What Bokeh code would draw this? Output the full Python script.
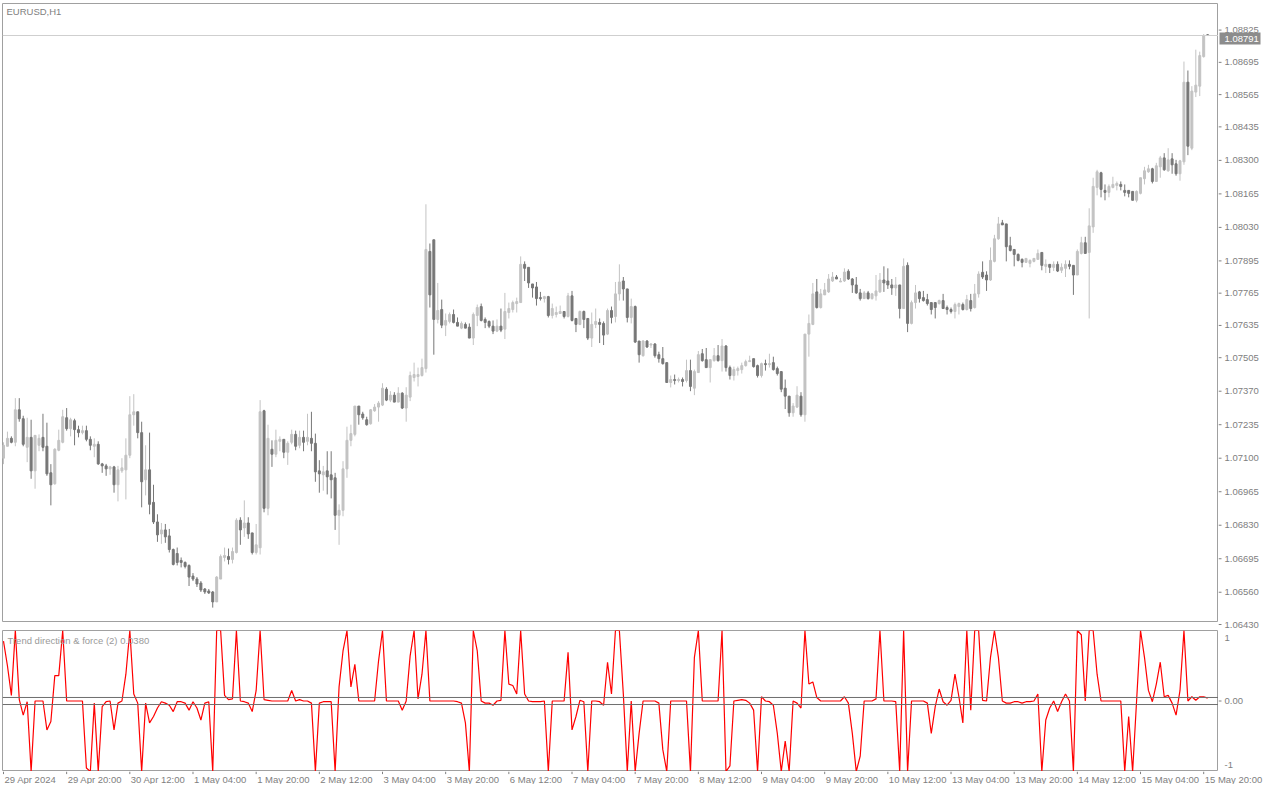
from bokeh.plotting import figure
from bokeh.models import Range1d, Span, Label, ColumnDataSource
from bokeh.layouts import column, row
from bokeh.embed import file_html
from bokeh.resources import INLINE
from bokeh.core.properties import value

symbol_title = "EURUSD,H1"
indicator_title = "Trend direction & force (2) 0.0380"
last_price_text = "1.08791"
last_price = 1.08791

open_ = [
    1.07088, 1.07136, 1.07168, 1.07152, 1.07283, 1.07247, 1.07132, 1.07172, 1.07037, 1.07140,
    1.07172, 1.07136, 1.07029, 1.06985, 1.07120, 1.07152, 1.07251, 1.07207, 1.07239, 1.07203,
    1.07191, 1.07199, 1.07164, 1.07136, 1.07144, 1.07065, 1.07057, 1.07045, 1.07053, 1.06981,
    1.07037, 1.07041, 1.07100, 1.07263, 1.07275, 1.07191, 1.07001, 1.07041, 1.06910, 1.06831,
    1.06783, 1.06799, 1.06775, 1.06720, 1.06704, 1.06676, 1.06668, 1.06656, 1.06613, 1.06601,
    1.06585, 1.06561, 1.06553, 1.06549, 1.06509, 1.06601, 1.06688, 1.06692, 1.06680, 1.06708,
    1.06838, 1.06807, 1.06827, 1.06787, 1.06708, 1.06727, 1.07279, 1.06886, 1.07124, 1.07104,
    1.07156, 1.07164, 1.07112, 1.07152, 1.07184, 1.07140, 1.07172, 1.07156, 1.07168, 1.07148,
    1.07037, 1.07021, 1.07037, 1.07021, 1.07009, 1.06858, 1.06878, 1.07045, 1.07160, 1.07184,
    1.07298, 1.07266, 1.07243, 1.07227, 1.07279, 1.07294, 1.07302, 1.07366, 1.07322, 1.07342,
    1.07314, 1.07350, 1.07290, 1.07334, 1.07413, 1.07417, 1.07421, 1.07449, 1.07921, 1.07968,
    1.07647, 1.07687, 1.07624, 1.07639, 1.07667, 1.07635, 1.07612, 1.07627, 1.07616, 1.07572,
    1.07663, 1.07699, 1.07647, 1.07639, 1.07620, 1.07600, 1.07620, 1.07608, 1.07675, 1.07687,
    1.07711, 1.07715, 1.07869, 1.07857, 1.07790, 1.07778, 1.07735, 1.07731, 1.07739, 1.07663,
    1.07667, 1.07671, 1.07679, 1.07659, 1.07742, 1.07651, 1.07627, 1.07679, 1.07651, 1.07572,
    1.07627, 1.07635, 1.07631, 1.07588, 1.07683, 1.07659, 1.07750, 1.07802, 1.07770, 1.07655,
    1.07699, 1.07560, 1.07501, 1.07560, 1.07544, 1.07548, 1.07505, 1.07489, 1.07473, 1.07393,
    1.07405, 1.07401, 1.07405, 1.07401, 1.07441, 1.07370, 1.07433, 1.07509, 1.07485, 1.07453,
    1.07481, 1.07501, 1.07481, 1.07540, 1.07453, 1.07421, 1.07441, 1.07445, 1.07461, 1.07477,
    1.07489, 1.07461, 1.07421, 1.07469, 1.07465, 1.07473, 1.07449, 1.07437, 1.07370, 1.07338,
    1.07271, 1.07294, 1.07338, 1.07263, 1.07588, 1.07627, 1.07758, 1.07695, 1.07746, 1.07758,
    1.07802, 1.07818, 1.07798, 1.07802, 1.07841, 1.07810, 1.07786, 1.07754, 1.07731, 1.07754,
    1.07731, 1.07742, 1.07758, 1.07806, 1.07802, 1.07786, 1.07774, 1.07786, 1.07691, 1.07865,
    1.07631, 1.07715, 1.07758, 1.07735, 1.07727, 1.07715, 1.07715, 1.07711, 1.07723, 1.07695,
    1.07687, 1.07679, 1.07699, 1.07707, 1.07687, 1.07723, 1.07695, 1.07750, 1.07837, 1.07826,
    1.07806, 1.07881, 1.07972, 1.08036, 1.08032, 1.07944, 1.07929, 1.07909, 1.07889, 1.07877,
    1.07873, 1.07881, 1.07889, 1.07917, 1.07861, 1.07869, 1.07857, 1.07869, 1.07845, 1.07853,
    1.07869, 1.07865, 1.07826, 1.07913, 1.07956, 1.07917, 1.08020, 1.08179, 1.08238, 1.08167,
    1.08159, 1.08179, 1.08187, 1.08191, 1.08167, 1.08167, 1.08163, 1.08127, 1.08155, 1.08214,
    1.08242, 1.08254, 1.08203, 1.08262, 1.08298, 1.08246, 1.08294, 1.08274, 1.08234, 1.08282,
    1.08603, 1.08337, 1.08563, 1.08587, 1.08706, 1.08794,
]

high = [
    1.07152, 1.07195, 1.07176, 1.07330, 1.07330, 1.07259, 1.07251, 1.07243, 1.07180, 1.07184,
    1.07267, 1.07231, 1.07064, 1.07128, 1.07203, 1.07283, 1.07290, 1.07251, 1.07247, 1.07219,
    1.07219, 1.07219, 1.07176, 1.07168, 1.07156, 1.07069, 1.07065, 1.07057, 1.07057, 1.07057,
    1.07088, 1.07168, 1.07338, 1.07346, 1.07275, 1.07235, 1.07140, 1.07191, 1.06981, 1.06862,
    1.06827, 1.06823, 1.06803, 1.06724, 1.06728, 1.06688, 1.06672, 1.06660, 1.06625, 1.06609,
    1.06593, 1.06565, 1.06561, 1.06553, 1.06613, 1.06700, 1.06728, 1.06724, 1.06728, 1.06846,
    1.06850, 1.06918, 1.06850, 1.06787, 1.06823, 1.07322, 1.07283, 1.07223, 1.07160, 1.07203,
    1.07176, 1.07164, 1.07156, 1.07203, 1.07199, 1.07199, 1.07199, 1.07267, 1.07275, 1.07187,
    1.07080, 1.07057, 1.07116, 1.07116, 1.07029, 1.06902, 1.07076, 1.07215, 1.07223, 1.07298,
    1.07298, 1.07275, 1.07255, 1.07286, 1.07306, 1.07318, 1.07390, 1.07374, 1.07358, 1.07354,
    1.07374, 1.07354, 1.07374, 1.07437, 1.07473, 1.07453, 1.07489, 1.08111, 1.07953, 1.07968,
    1.07794, 1.07727, 1.07671, 1.07675, 1.07687, 1.07655, 1.07639, 1.07635, 1.07631, 1.07675,
    1.07707, 1.07711, 1.07655, 1.07643, 1.07643, 1.07647, 1.07691, 1.07754, 1.07715, 1.07723,
    1.07735, 1.07901, 1.07881, 1.07857, 1.07790, 1.07798, 1.07758, 1.07742, 1.07742, 1.07711,
    1.07699, 1.07703, 1.07679, 1.07754, 1.07762, 1.07651, 1.07683, 1.07683, 1.07651, 1.07675,
    1.07691, 1.07651, 1.07639, 1.07691, 1.07699, 1.07798, 1.07869, 1.07818, 1.07770, 1.07731,
    1.07703, 1.07560, 1.07564, 1.07564, 1.07552, 1.07552, 1.07517, 1.07536, 1.07473, 1.07421,
    1.07425, 1.07413, 1.07413, 1.07485, 1.07485, 1.07445, 1.07520, 1.07528, 1.07532, 1.07485,
    1.07532, 1.07544, 1.07568, 1.07544, 1.07461, 1.07457, 1.07457, 1.07473, 1.07485, 1.07501,
    1.07489, 1.07465, 1.07473, 1.07485, 1.07509, 1.07497, 1.07457, 1.07437, 1.07405, 1.07338,
    1.07310, 1.07378, 1.07354, 1.07588, 1.07667, 1.07794, 1.07810, 1.07770, 1.07794, 1.07830,
    1.07838, 1.07826, 1.07814, 1.07853, 1.07849, 1.07814, 1.07818, 1.07770, 1.07762, 1.07762,
    1.07754, 1.07826, 1.07834, 1.07861, 1.07853, 1.07810, 1.07818, 1.07786, 1.07893, 1.07877,
    1.07723, 1.07786, 1.07762, 1.07762, 1.07750, 1.07715, 1.07715, 1.07727, 1.07750, 1.07703,
    1.07695, 1.07715, 1.07715, 1.07715, 1.07746, 1.07750, 1.07790, 1.07841, 1.07881, 1.07841,
    1.07937, 1.07988, 1.08060, 1.08048, 1.08032, 1.07980, 1.07929, 1.07913, 1.07893, 1.07893,
    1.07889, 1.07893, 1.07929, 1.07917, 1.07889, 1.07869, 1.07881, 1.07881, 1.07873, 1.07885,
    1.07885, 1.07865, 1.07929, 1.07980, 1.07980, 1.08095, 1.08218, 1.08250, 1.08242, 1.08191,
    1.08191, 1.08222, 1.08203, 1.08203, 1.08191, 1.08167, 1.08163, 1.08167, 1.08218, 1.08262,
    1.08270, 1.08258, 1.08278, 1.08306, 1.08317, 1.08337, 1.08317, 1.08290, 1.08290, 1.08686,
    1.08650, 1.08587, 1.08734, 1.08726, 1.08797, 1.08797,
]

low = [
    1.07064, 1.07136, 1.07148, 1.07136, 1.07235, 1.07136, 1.07072, 1.07005, 1.06965, 1.07116,
    1.07116, 1.07017, 1.06898, 1.06981, 1.07116, 1.07148, 1.07199, 1.07176, 1.07140, 1.07172,
    1.07184, 1.07156, 1.07120, 1.07092, 1.07061, 1.07029, 1.07017, 1.07021, 1.06949, 1.06914,
    1.07029, 1.06922, 1.07088, 1.07219, 1.07168, 1.06890, 1.06938, 1.06862, 1.06823, 1.06751,
    1.06743, 1.06747, 1.06708, 1.06656, 1.06656, 1.06648, 1.06644, 1.06573, 1.06593, 1.06569,
    1.06549, 1.06541, 1.06541, 1.06486, 1.06509, 1.06601, 1.06672, 1.06660, 1.06664, 1.06704,
    1.06739, 1.06771, 1.06763, 1.06700, 1.06700, 1.06700, 1.06870, 1.06858, 1.07053, 1.07092,
    1.07116, 1.07088, 1.07061, 1.07144, 1.07120, 1.07128, 1.07116, 1.07140, 1.07116, 1.06993,
    1.06949, 1.06957, 1.06942, 1.06926, 1.06799, 1.06739, 1.06854, 1.07009, 1.07136, 1.07176,
    1.07223, 1.07243, 1.07219, 1.07223, 1.07275, 1.07235, 1.07298, 1.07318, 1.07314, 1.07314,
    1.07314, 1.07286, 1.07235, 1.07318, 1.07397, 1.07377, 1.07417, 1.07433, 1.07695, 1.07505,
    1.07631, 1.07612, 1.07580, 1.07631, 1.07631, 1.07620, 1.07608, 1.07612, 1.07572, 1.07544,
    1.07620, 1.07639, 1.07612, 1.07612, 1.07588, 1.07596, 1.07596, 1.07568, 1.07651, 1.07675,
    1.07675, 1.07715, 1.07802, 1.07774, 1.07735, 1.07703, 1.07723, 1.07715, 1.07655, 1.07651,
    1.07655, 1.07671, 1.07651, 1.07655, 1.07639, 1.07596, 1.07624, 1.07612, 1.07564, 1.07536,
    1.07612, 1.07552, 1.07544, 1.07584, 1.07631, 1.07635, 1.07723, 1.07723, 1.07635, 1.07631,
    1.07552, 1.07473, 1.07497, 1.07532, 1.07532, 1.07493, 1.07473, 1.07465, 1.07393, 1.07373,
    1.07385, 1.07393, 1.07377, 1.07393, 1.07358, 1.07342, 1.07433, 1.07477, 1.07453, 1.07393,
    1.07477, 1.07477, 1.07437, 1.07437, 1.07405, 1.07401, 1.07421, 1.07429, 1.07457, 1.07477,
    1.07453, 1.07413, 1.07413, 1.07441, 1.07453, 1.07441, 1.07421, 1.07354, 1.07286, 1.07255,
    1.07255, 1.07290, 1.07255, 1.07235, 1.07497, 1.07624, 1.07691, 1.07691, 1.07746, 1.07754,
    1.07798, 1.07810, 1.07798, 1.07798, 1.07806, 1.07754, 1.07750, 1.07723, 1.07731, 1.07727,
    1.07727, 1.07723, 1.07754, 1.07758, 1.07770, 1.07746, 1.07742, 1.07651, 1.07691, 1.07596,
    1.07627, 1.07691, 1.07715, 1.07719, 1.07703, 1.07667, 1.07651, 1.07707, 1.07691, 1.07667,
    1.07671, 1.07651, 1.07667, 1.07683, 1.07683, 1.07679, 1.07691, 1.07735, 1.07810, 1.07762,
    1.07802, 1.07877, 1.07968, 1.08028, 1.07881, 1.07921, 1.07861, 1.07881, 1.07857, 1.07877,
    1.07857, 1.07877, 1.07889, 1.07845, 1.07834, 1.07834, 1.07842, 1.07838, 1.07834, 1.07818,
    1.07849, 1.07746, 1.07826, 1.07909, 1.07913, 1.07651, 1.07996, 1.08147, 1.08139, 1.08127,
    1.08139, 1.08175, 1.08167, 1.08167, 1.08143, 1.08139, 1.08127, 1.08119, 1.08151, 1.08191,
    1.08238, 1.08195, 1.08203, 1.08218, 1.08246, 1.08242, 1.08234, 1.08226, 1.08206, 1.08270,
    1.08309, 1.08329, 1.08543, 1.08547, 1.08702, 1.08789,
]

close = [
    1.07140, 1.07168, 1.07152, 1.07283, 1.07247, 1.07144, 1.07172, 1.07037, 1.07180, 1.07168,
    1.07132, 1.07025, 1.06981, 1.07124, 1.07160, 1.07255, 1.07207, 1.07243, 1.07203, 1.07191,
    1.07199, 1.07164, 1.07140, 1.07144, 1.07065, 1.07057, 1.07045, 1.07053, 1.06981, 1.07041,
    1.07049, 1.07100, 1.07263, 1.07275, 1.07191, 1.06993, 1.07041, 1.06902, 1.06831, 1.06779,
    1.06799, 1.06771, 1.06720, 1.06660, 1.06668, 1.06668, 1.06652, 1.06609, 1.06601, 1.06581,
    1.06557, 1.06549, 1.06545, 1.06509, 1.06609, 1.06692, 1.06696, 1.06680, 1.06712, 1.06838,
    1.06799, 1.06827, 1.06783, 1.06708, 1.06739, 1.07275, 1.06886, 1.07168, 1.07104, 1.07160,
    1.07164, 1.07112, 1.07148, 1.07184, 1.07136, 1.07172, 1.07152, 1.07172, 1.07148, 1.07033,
    1.07025, 1.07033, 1.07013, 1.07001, 1.06858, 1.06878, 1.07045, 1.07160, 1.07187, 1.07298,
    1.07263, 1.07251, 1.07223, 1.07283, 1.07294, 1.07310, 1.07370, 1.07322, 1.07342, 1.07314,
    1.07350, 1.07290, 1.07342, 1.07421, 1.07425, 1.07425, 1.07453, 1.07929, 1.07746, 1.07647,
    1.07683, 1.07624, 1.07643, 1.07667, 1.07635, 1.07620, 1.07631, 1.07612, 1.07572, 1.07667,
    1.07695, 1.07643, 1.07635, 1.07620, 1.07600, 1.07620, 1.07604, 1.07679, 1.07691, 1.07715,
    1.07719, 1.07869, 1.07853, 1.07794, 1.07774, 1.07731, 1.07731, 1.07739, 1.07663, 1.07691,
    1.07675, 1.07679, 1.07659, 1.07742, 1.07643, 1.07627, 1.07679, 1.07647, 1.07572, 1.07627,
    1.07639, 1.07627, 1.07584, 1.07683, 1.07655, 1.07750, 1.07798, 1.07770, 1.07655, 1.07699,
    1.07556, 1.07505, 1.07560, 1.07536, 1.07548, 1.07501, 1.07489, 1.07469, 1.07393, 1.07405,
    1.07401, 1.07405, 1.07397, 1.07441, 1.07377, 1.07437, 1.07505, 1.07481, 1.07453, 1.07485,
    1.07501, 1.07481, 1.07540, 1.07453, 1.07421, 1.07445, 1.07449, 1.07461, 1.07477, 1.07481,
    1.07457, 1.07421, 1.07469, 1.07465, 1.07469, 1.07445, 1.07429, 1.07366, 1.07338, 1.07271,
    1.07298, 1.07342, 1.07263, 1.07588, 1.07631, 1.07750, 1.07695, 1.07750, 1.07766, 1.07810,
    1.07818, 1.07810, 1.07802, 1.07838, 1.07810, 1.07786, 1.07754, 1.07731, 1.07754, 1.07731,
    1.07750, 1.07762, 1.07806, 1.07794, 1.07786, 1.07774, 1.07786, 1.07691, 1.07861, 1.07631,
    1.07715, 1.07754, 1.07731, 1.07723, 1.07711, 1.07687, 1.07695, 1.07723, 1.07691, 1.07687,
    1.07679, 1.07707, 1.07711, 1.07687, 1.07727, 1.07691, 1.07750, 1.07830, 1.07818, 1.07806,
    1.07885, 1.07972, 1.08032, 1.08028, 1.07940, 1.07925, 1.07909, 1.07885, 1.07877, 1.07893,
    1.07885, 1.07893, 1.07913, 1.07865, 1.07869, 1.07857, 1.07869, 1.07842, 1.07857, 1.07869,
    1.07861, 1.07826, 1.07921, 1.07956, 1.07913, 1.08024, 1.08183, 1.08242, 1.08171, 1.08159,
    1.08183, 1.08191, 1.08195, 1.08183, 1.08159, 1.08155, 1.08127, 1.08163, 1.08218, 1.08246,
    1.08254, 1.08203, 1.08266, 1.08298, 1.08250, 1.08290, 1.08270, 1.08234, 1.08286, 1.08603,
    1.08345, 1.08567, 1.08591, 1.08710, 1.08789, 1.08791,
]

trend_force = [
    0.85, 0.50, 0.08, 1.00, 0.02, -0.20, -0.01, -1.00, 0.00, 0.00,
    0.00, -0.41, -0.29, 0.36, 0.36, 1.00, 0.00, 0.00, 0.00, 0.00,
    0.00, -0.95, -1.00, -0.03, -1.00, -0.08, -0.01, 0.00, -0.41, -0.03,
    0.00, 0.38, 1.00, 0.10, -0.03, -1.00, -0.03, -0.31, -0.22, -0.10,
    -0.01, -0.03, -0.06, -0.15, -0.01, -0.01, -0.03, -0.13, -0.01, -0.10,
    -0.27, -0.03, -0.01, -1.00, 1.00, 1.00, 0.08, 0.02, 0.03, 1.00,
    0.00, -0.01, -0.03, -0.15, 0.15, 1.00, 0.02, 0.01, 0.00, 0.00,
    0.00, 0.00, 0.00, 0.15, 0.00, 0.02, 0.00, 0.00, -0.03, -1.00,
    -0.03, -0.01, -0.01, -0.01, -1.00, 0.20, 0.71, 1.00, 0.20, 0.52,
    0.00, 0.00, 0.00, 0.00, 0.00, 0.57, 1.00, 0.00, 0.00, 0.00,
    0.00, -0.13, 0.00, 0.64, 1.00, 0.03, 0.38, 1.00, 0.00, 0.00,
    0.00, 0.00, 0.00, 0.00, 0.00, -0.01, -0.03, -0.31, -1.00, 1.00,
    0.71, 0.00, -0.03, -0.03, -0.06, 0.00, 0.01, 1.00, 0.24, 0.22,
    0.10, 1.00, 0.10, 0.00, -0.01, -0.01, -0.01, 0.00, -1.00, 0.00,
    0.00, 0.00, 0.00, 0.69, -0.41, -0.22, 0.01, -0.01, -1.00, 0.00,
    0.00, -0.01, -0.06, 0.55, 0.10, 1.00, 1.00, 0.10, -1.00, 0.00,
    -1.00, -0.46, 0.00, 0.00, 0.00, 0.00, -0.03, -0.69, -1.00, 0.00,
    0.00, 0.00, 0.00, 0.00, -1.00, 0.62, 1.00, 0.00, 0.00, 0.00,
    0.00, 0.00, 1.00, -1.00, -0.92, 0.00, 0.01, 0.02, 0.01, -0.03,
    -0.13, -1.00, 0.06, 0.00, -0.01, -0.06, -0.46, -1.00, -0.57, -1.00,
    0.00, -0.03, -0.10, 1.00, 0.24, 0.27, 0.05, 0.00, 0.00, 0.00,
    0.00, 0.00, 0.00, 0.06, -0.03, -0.46, -1.00, -0.78, 0.00, 0.00,
    0.00, 0.03, 1.00, 0.00, 0.00, 0.00, -0.01, -1.00, 1.00, -1.00,
    0.00, 0.00, 0.00, 0.00, -0.03, -0.46, -0.08, 0.17, -0.01, -0.06,
    0.01, 0.38, 0.06, -0.31, 1.00, -0.13, 1.00, 1.00, 0.01, 0.00,
    0.62, 1.00, 0.62, 0.00, -0.03, -0.03, -0.01, -0.01, -0.03, -0.01,
    -0.01, 0.00, 0.10, -1.00, -0.27, -0.10, 0.00, -0.15, -0.01, 0.10,
    0.00, -1.00, 1.00, 0.94, 0.00, 1.00, 1.00, 0.38, 0.00, 0.00,
    0.00, 0.00, 0.00, 0.00, -1.00, -0.22, -1.00, 0.00, 1.00, 0.62,
    0.15, -0.01, 0.24, 0.55, 0.06, 0.08, -0.03, -0.20, 0.15, 1.00,
    0.00, 0.06, 0.01, 0.06, 0.06, 0.04,
]

price_ticks = [1.08825, 1.08695, 1.08565, 1.08435, 1.08300, 1.08165, 1.08030, 1.07895,
               1.07765, 1.07635, 1.07505, 1.07370, 1.07235, 1.07100, 1.06965, 1.06830,
               1.06695, 1.06560, 1.06430]
time_ticks = [0, 16, 32, 48, 64, 80, 96, 112, 128, 144, 160, 176, 192, 208, 224, 240,
              256, 272, 288, 304]
time_labels = ["29 Apr 2024", "29 Apr 20:00", "30 Apr 12:00", "1 May 04:00", "1 May 20:00",
               "2 May 12:00", "3 May 04:00", "3 May 20:00", "6 May 12:00", "7 May 04:00",
               "7 May 20:00", "8 May 12:00", "9 May 04:00", "9 May 20:00", "10 May 12:00",
               "13 May 04:00", "13 May 20:00", "14 May 12:00", "15 May 04:00", "15 May 20:00"]
indicator_levels = [0.05, -0.05]
indicator_ticks = [1, 0, -1]
indicator_tick_labels = ["1", "0.00", "-1"]

FONT = "Liberation Sans"
FS = "9.5px"
TXT = "#808080"
BORDER = "#A0A0A0"
BULL = "#C3C3C3"
BEAR = "#777777"

# layout sizes (pixels)
LEFT = 2
TOP = 3
FW = 1216
AXW = 46
MAIN_H = 619
MAIN_EXT = 8      # price scale strip reaches a little below the main pane
IND_H = 141
STRIP_H = 13

n = len(close)
xs = list(range(n))
colors = [BULL if c >= o else BEAR for o, c in zip(open_, close)]
src = ColumnDataSource(dict(
    x=xs, o=open_, h=high, l=low, c=close,
    top=[max(o, c) for o, c in zip(open_, close)],
    bottom=[min(o, c) for o, c in zip(open_, close)],
    color=colors,
))

X0, X1 = -0.25, 307.75
Y0, Y1 = 1.06426, 1.08920
xr = Range1d(X0, X1)
yr = Range1d(Y0, Y1)
K = (Y1 - Y0) / MAIN_H  # price per pixel


def bare(fig):
    fig.grid.visible = False
    fig.outline_line_color = None
    fig.background_fill_color = "white"
    fig.border_fill_color = "white"


# ---- main price pane
p = figure(frame_width=FW, frame_height=MAIN_H, x_range=xr, y_range=yr,
           output_backend="svg", toolbar_location=None,
           x_axis_location=None, y_axis_location=None,
           min_border_left=LEFT, min_border_top=TOP, min_border_bottom=0, min_border_right=0)
bare(p)
p.outline_line_color = BORDER
p.add_layout(Span(location=last_price, dimension="width", line_color="#CFCFCF", line_width=1))
p.segment(x0="x", y0="h", x1="x", y1="l", line_color="color", line_width=1, source=src)
p.vbar(x="x", top="top", bottom="bottom", width=0.5, fill_color="color",
       line_color="color", line_width=1, source=src)
p.add_layout(Label(x=4, y=MAIN_H - 2, x_units="screen", y_units="screen", text=symbol_title,
                   text_font=FONT, text_font_size=FS, text_color=TXT,
                   text_baseline="top", text_align="left"))

# ---- price scale (right)
pa = figure(frame_width=AXW, frame_height=TOP + MAIN_H + MAIN_EXT,
            x_range=Range1d(0, AXW), y_range=Range1d(Y0 - MAIN_EXT * K, Y1 + TOP * K),
            output_backend="svg", toolbar_location=None,
            x_axis_location=None, y_axis_location=None,
            min_border_left=0, min_border_top=0, min_border_bottom=0, min_border_right=0)
bare(pa)
nt = len(price_ticks)
pa.segment(x0=[0] * nt, y0=price_ticks, x1=[3] * nt, y1=price_ticks, line_color=TXT, line_width=1)
pa.text(x=[6] * nt, y=price_ticks, text=[f"{t:.5f}" for t in price_ticks],
        text_font=value(FONT), text_font_size=FS, text_color=TXT,
        text_align="left", text_baseline="middle")
pa.rect(x=[21.5], y=[last_price], width=41, height=12, width_units="screen",
        height_units="screen", fill_color="#8C8C8C", line_color=None)
pa.text(x=[6], y=[last_price], text=[last_price_text], text_font=value(FONT),
        text_font_size=FS, text_color="white", text_align="left", text_baseline="middle")

# ---- indicator pane
iyr = Range1d(-1, 1)
q = figure(frame_width=FW, frame_height=IND_H, x_range=xr, y_range=iyr,
           output_backend="svg", toolbar_location=None,
           x_axis_location=None, y_axis_location=None,
           min_border_left=LEFT, min_border_top=0, min_border_bottom=0, min_border_right=0)
bare(q)
q.outline_line_color = BORDER
for lv in indicator_levels:
    q.add_layout(Span(location=lv, dimension="width", line_color="#6E6E6E", line_width=1))
q.line(xs, trend_force, line_color="#FF0000", line_width=1.2)
q.add_layout(Label(x=5, y=IND_H - 4, x_units="screen", y_units="screen", text=indicator_title,
                   text_font=FONT, text_font_size=FS, text_color="#9A9A9A",
                   text_baseline="top", text_align="left"))

qa = figure(frame_width=AXW, frame_height=IND_H, x_range=Range1d(0, AXW), y_range=iyr,
            output_backend="svg", toolbar_location=None,
            x_axis_location=None, y_axis_location=None,
            min_border_left=0, min_border_top=0, min_border_bottom=0, min_border_right=0)
bare(qa)
inset = 4 * (2.0 / IND_H)  # small inset of the end labels from the pane edges
qa.segment(x0=[0], y0=[0], x1=[3], y1=[0], line_color=TXT, line_width=1)
qa.text(x=[6], y=[indicator_ticks[1]], text=[indicator_tick_labels[1]], text_font=value(FONT),
        text_font_size=FS, text_color=TXT, text_align="left", text_baseline="middle")
qa.text(x=[6], y=[indicator_ticks[0] - inset], text=[indicator_tick_labels[0]],
        text_font=value(FONT), text_font_size=FS, text_color=TXT,
        text_align="left", text_baseline="top")
qa.text(x=[6], y=[indicator_ticks[2] + inset], text=[indicator_tick_labels[2]],
        text_font=value(FONT), text_font_size=FS, text_color=TXT,
        text_align="left", text_baseline="bottom")

# ---- time labels strip (left-aligned at the tick, like the terminal)
TW = LEFT + FW + AXW
bpp = (X1 - X0) / FW  # bars per pixel
r = figure(frame_width=TW, frame_height=STRIP_H,
           x_range=Range1d(X0 - LEFT * bpp, X0 + (TW - LEFT) * bpp), y_range=Range1d(0, 1),
           output_backend="svg", toolbar_location=None,
           x_axis_location=None, y_axis_location=None,
           min_border_left=0, min_border_top=0, min_border_bottom=0, min_border_right=0)
bare(r)
m = len(time_ticks)
r.segment(x0=time_ticks, y0=[1] * m, x1=time_ticks, y1=[0.8] * m, line_color=TXT, line_width=1)
r.text(x=time_ticks, y=[0.42] * m, text=time_labels, x_offset=1,
       text_font=value(FONT), text_font_size=FS, text_color=TXT,
       text_align="left", text_baseline="middle")

layout = column(row(p, pa, spacing=0), row(q, qa, spacing=0), r, spacing=0)
open("out.html", "w").write(file_html(layout, INLINE))
